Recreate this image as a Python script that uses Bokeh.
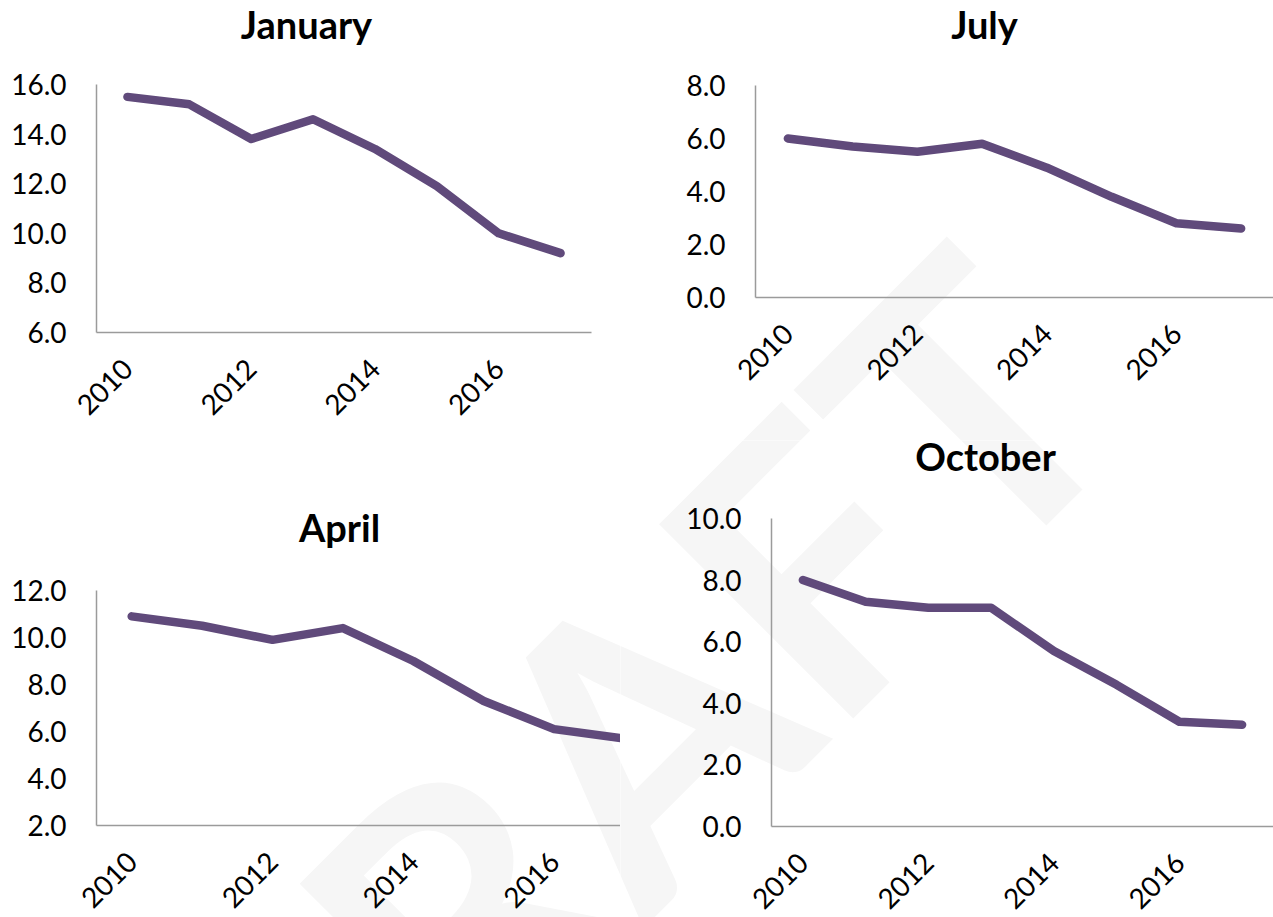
import math
from bokeh.plotting import figure
from bokeh.models import FixedTicker, PrintfTickFormatter, Label
from bokeh.layouts import row, column
from bokeh.embed import file_html
from bokeh.resources import INLINE

# ---- data ----
years = [2010, 2011, 2012, 2013, 2014, 2015, 2016, 2017]
january = [15.5, 15.2, 13.8, 14.6, 13.4, 11.9, 10.0, 9.2]
july = [6.0, 5.7, 5.5, 5.8, 4.9, 3.8, 2.8, 2.6]
april = [10.9, 10.5, 9.9, 10.4, 9.0, 7.3, 6.1, 5.7]
october = [8.0, 7.3, 7.1, 7.1, 5.7, 4.6, 3.4, 3.3]
year_ticks = [2010, 2012, 2014, 2016]
january_ticks = [6, 8, 10, 12, 14, 16]
july_ticks = [0, 2, 4, 6, 8]
april_ticks = [2, 4, 6, 8, 10, 12]
october_ticks = [0, 2, 4, 6, 8, 10]

LINE_COLOR = "#604A7B"
AXIS_COLOR = "#9b9b9b"
FONT = "Lato"

# page geometry of each panel
# fig: (left, top, right, bottom) of the figure canvas on the page
# axes: (x of y-axis, width of one year band, y of top value, y of x-axis)
panels = [
    dict(name="January", values=january, ticks=january_ticks, ylim=(6, 16),
         fig=(0, 0, 680, 440), axes=(96, 61.875, 84, 332), title=(306, 23)),
    dict(name="July", values=july, ticks=july_ticks, ylim=(0, 8),
         fig=(680, 0, 1273, 440), axes=(755, 64.75, 85, 297), title=(984, 23)),
    dict(name="April", values=april, ticks=april_ticks, ylim=(2, 12),
         fig=(0, 440, 620, 917), axes=(96, 70.4, 590, 825), title=(339, 526)),
    dict(name="October", values=october, ticks=october_ticks, ylim=(0, 10),
         fig=(620, 440, 1273, 917), axes=(771, 62.75, 518, 826), title=(985, 455)),
]

WATERMARK_PAGE = (602, 761)
X0 = years[0] - 0.5


def mapping(pn):
    ax_left, band, ax_top, ax_bottom = pn["axes"]
    ymin, ymax = pn["ylim"]
    yscale = (ax_bottom - ax_top) / (ymax - ymin)

    def to_data(px, py):
        return X0 + (px - ax_left) / band, ymin + (ax_bottom - py) / yscale
    return to_data


figs = {}
for pn in panels:
    fl, ft, fr, fb = pn["fig"]
    to_data = mapping(pn)
    xs, ys0 = to_data(fl, fb)
    xe, ye = to_data(fr, ft)
    p = figure(
        title=None, width=fr - fl, height=fb - ft, min_border=0,
        x_range=(xs, xe), y_range=(ys0, ye),
        output_backend="svg", toolbar_location=None,
    )
    p.outline_line_color = None
    p.xgrid.visible = False
    p.ygrid.visible = False
    p.background_fill_color = "white"
    p.border_fill_color = "white"

    # faint watermark, aligned across the four panels
    wx, wy = to_data(*WATERMARK_PAGE)
    p.add_layout(Label(x=wx, y=wy, text="DRAFT", angle=math.pi / 4,
                       text_align="center", text_baseline="alphabetic",
                       text_font=FONT, text_font_style="bold", text_font_size="380px",
                       text_color="#f6f6f6", level="underlay"))

    p.line(years, pn["values"], line_width=8.5, line_color=LINE_COLOR,
           line_cap="round", line_join="round")

    ymin, ymax = pn["ylim"]
    for ax in (p.xaxis[0], p.yaxis[0]):
        ax.axis_line_color = AXIS_COLOR
        ax.axis_line_width = 1.5
        ax.major_tick_line_color = None
        ax.minor_tick_line_color = None
        ax.major_tick_out = 0
        ax.major_tick_in = 0
        ax.major_label_text_font = FONT
        ax.major_label_text_font_size = "28px"
        ax.major_label_text_color = "black"
    p.xaxis.fixed_location = ymin
    p.xaxis.bounds = (X0, X0 + len(years))
    p.xaxis.ticker = FixedTicker(ticks=year_ticks)
    p.xaxis.major_label_orientation = math.pi / 4
    p.xaxis.major_label_standoff = 31
    p.yaxis.fixed_location = X0
    p.yaxis.bounds = (ymin, ymax)
    p.yaxis.ticker = FixedTicker(ticks=pn["ticks"])
    p.yaxis.formatter = PrintfTickFormatter(format="%.1f")
    p.yaxis.major_label_standoff = 30

    tx, ty = to_data(*pn["title"])
    p.add_layout(Label(x=tx, y=ty, text=pn["name"], text_align="center",
                       text_baseline="middle", text_font=FONT, text_font_style="bold",
                       text_font_size="38px", text_color="black"))
    figs[pn["name"]] = p

layout = column(row(figs["January"], figs["July"]), row(figs["April"], figs["October"]))

open("out.html", "w").write(file_html(layout, INLINE))
